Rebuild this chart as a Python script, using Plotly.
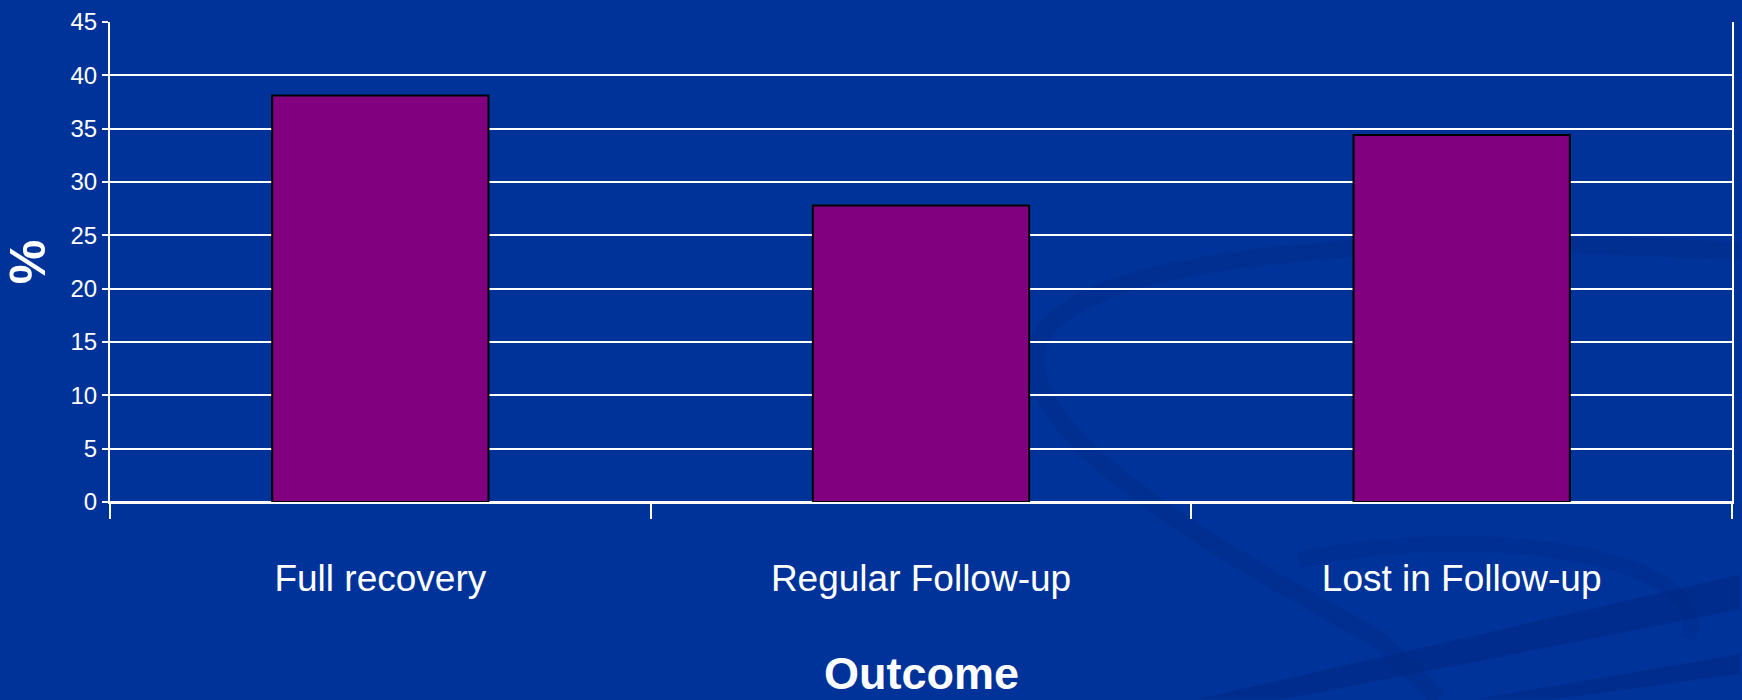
import plotly.graph_objects as go

categories = ["Full recovery", "Regular Follow-up", "Lost in Follow-up"]
percent = [38.1, 27.8, 34.4]
y_ticks = [0, 5, 10, 15, 20, 25, 30, 35, 40, 45]

BG = "#003399"
FONT = "Liberation Sans Narrow, Arial Narrow, Liberation Sans, Arial, sans-serif"

fig = go.Figure()
fig.add_trace(go.Bar(
    x=categories, y=percent,
    marker=dict(color="#800080", line=dict(color="#000000", width=2)),
    width=0.4,
))

# decorative background swooshes, expressed in paper coordinates
def px(x):
    return (x - 110) / 1624

def py(y):
    return (502 - y) / 483

def pt(x, y):
    return f"{px(x):.4f},{py(y):.4f}"

shapes = [
    dict(type="path",
         path=f"M {pt(1742,575)} L {pt(1742,610)} L {pt(1290,700)} L {pt(1200,700)} Z",
         xref="paper", yref="paper", fillcolor="rgba(0,35,120,0.35)", line=dict(width=0), layer="below"),
    dict(type="path",
         path=f"M {pt(1742,655)} L {pt(1742,675)} L {pt(1560,700)} L {pt(1480,700)} Z",
         xref="paper", yref="paper", fillcolor="rgba(0,35,120,0.35)", line=dict(width=0), layer="below"),
    dict(type="path",
         path=(f"M {pt(1742,250)} C {pt(1400,230)} {pt(1080,250)} {pt(1040,340)} "
               f"C {pt(1010,430)} {pt(1200,540)} {pt(1380,640)} L {pt(1440,700)}"),
         xref="paper", yref="paper", line=dict(color="rgba(0,35,120,0.2)", width=18), layer="below"),
    dict(type="path",
         path=f"M {pt(1300,560)} C {pt(1500,520)} {pt(1720,560)} {pt(1690,640)}",
         xref="paper", yref="paper", line=dict(color="rgba(0,35,120,0.18)", width=16), layer="below"),
]

fig.update_layout(
    width=1742, height=700,
    margin=dict(l=110, r=8, t=19, b=198),
    paper_bgcolor=BG, plot_bgcolor=BG,
    showlegend=False,
    bargap=0.6,
    shapes=shapes,
    font=dict(family=FONT, color="white"),
    xaxis=dict(
        tickson="boundaries", ticks="outside", ticklen=15, tickwidth=2,
        tickcolor="white", showline=True, linecolor="white", linewidth=2,
        tickfont=dict(size=37, family=FONT, color="white"),
        ticklabelstandoff=43,
        showgrid=False,
    ),
    yaxis=dict(
        range=[0, 45], tickvals=y_ticks, ticks="outside", ticklen=6, tickwidth=2,
        tickcolor="white", showline=True, linecolor="white", linewidth=2, mirror=True,
        showgrid=True, gridcolor="white", gridwidth=2,
        zeroline=True, zerolinecolor="white", zerolinewidth=2,
        tickfont=dict(size=24, family=FONT, color="white"),
        title=dict(text="<b>%</b>", font=dict(size=50, family=FONT, color="white"), standoff=22),
    ),
    annotations=[dict(
        text="<b>Outcome</b>", xref="paper", yref="paper", x=0.5, y=py(675),
        xanchor="center", yanchor="middle", showarrow=False,
        font=dict(size=45, family=FONT, color="white"),
    )],
)

fig.write_html("out.html")
